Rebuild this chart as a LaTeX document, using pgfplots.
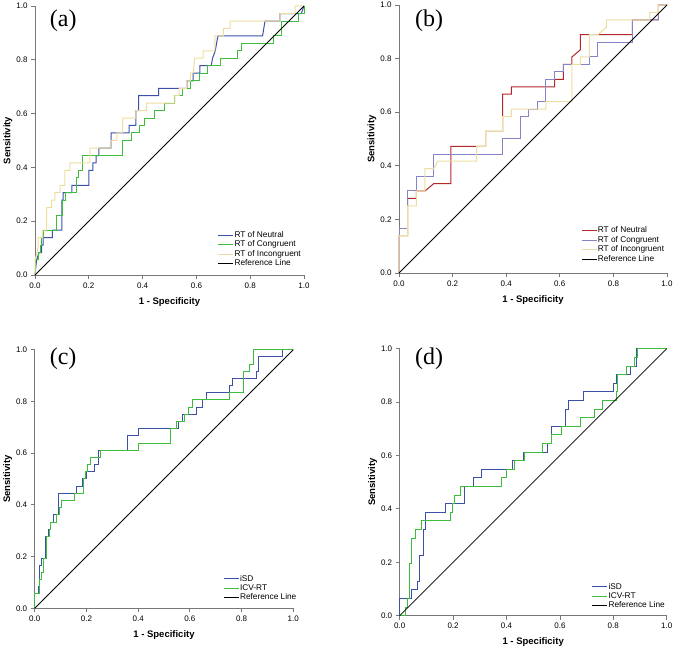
\documentclass[border=0pt]{standalone}
\usepackage{fontspec}
\setmainfont{Liberation Sans}
\newfontfamily\seriffont{Liberation Serif}
\usepackage{pgfplots}
\pgfplotsset{compat=1.18}

\definecolor{cblue}{RGB}{60,80,170}
\definecolor{cgreen}{RGB}{60,190,60}
\definecolor{cyellow}{RGB}{236,222,160}
\definecolor{cred}{RGB}{178,40,40}
\definecolor{clav}{RGB}{132,132,200}
\definecolor{axgray}{RGB}{120,120,120}

\pgfplotsset{
  rocstyle/.style={
    scale only axis,
    xmin=0, xmax=1, ymin=0, ymax=1,
    clip=false,
    axis x line*=bottom, axis y line*=left,
    axis line style={axgray, line width=0.8pt, -},
    xtick={0,0.2,0.4,0.6,0.8,1},
    ytick={0,0.2,0.4,0.6,0.8,1},
    tick align=outside,
    major tick length=4pt,
    tick style={axgray, line width=0.8pt},
    /pgf/number format/assume math mode=true,
    xticklabel style={font=\fontsize{8}{9}\selectfont, /pgf/number format/fixed, /pgf/number format/fixed zerofill, /pgf/number format/precision=1},
    yticklabel style={font=\fontsize{8}{9}\selectfont, /pgf/number format/fixed, /pgf/number format/fixed zerofill, /pgf/number format/precision=1},
    xlabel={1 - Specificity},
    ylabel={Sensitivity},
    every axis x label/.style={at={(axis description cs:0.5,0)}, anchor=center, yshift=-26.7pt, font=\bfseries\fontsize{9.5}{11}\selectfont},
    every axis y label/.style={at={(axis description cs:0,0.5)}, anchor=center, xshift=-27pt, rotate=90, font=\bfseries\fontsize{9.5}{11}\selectfont},
    legend cell align=left,
    legend style={draw=none, fill=none, inner sep=0pt, outer sep=0pt, row sep=0pt,
      font=\fontsize{8.3}{9}\selectfont,
      nodes={inner sep=0.6pt, text height=6.3pt, text depth=1.9pt}},
    legend image code/.code={\draw[#1] (0pt,0pt) -- (15pt,0pt);},
    every axis plot/.append style={line width=1pt},
  },
  refline/.style={black, line width=0.8pt},
}

\begin{document}
\begin{tikzpicture}
\useasboundingbox (0pt,0pt) rectangle (675pt,650pt);

% ---------- (a) ----------
\begin{axis}[rocstyle, at={(35pt,375pt)}, anchor=south west, width=269pt, height=269pt,
  legend style={at={(axis cs:0.68,0.025)}, anchor=south west}]
\addplot[cblue] coordinates {(0,0) (0.006,0.056) (0.015,0.083) (0.025,0.083) (0.025,0.111) (0.03,0.111) (0.03,0.139) (0.065,0.139) (0.065,0.167) (0.1,0.167) (0.1,0.278) (0.105,0.278) (0.105,0.306) (0.137,0.306) (0.137,0.333) (0.2,0.333) (0.2,0.389) (0.215,0.389) (0.215,0.417) (0.227,0.417) (0.227,0.444) (0.237,0.444) (0.237,0.472) (0.283,0.472) (0.283,0.528) (0.35,0.528) (0.35,0.556) (0.375,0.556) (0.375,0.611) (0.385,0.611) (0.385,0.667) (0.46,0.667) (0.46,0.694) (0.565,0.694) (0.565,0.722) (0.588,0.722) (0.588,0.75) (0.613,0.75) (0.613,0.778) (0.655,0.778) (0.66,0.806) (0.67,0.833) (0.675,0.861) (0.68,0.889) (0.846,0.889) (0.855,0.944) (0.91,0.944) (0.91,0.972) (0.99,0.972) (1,1)};
\addlegendentry{RT of Neutral}
\addplot[cgreen] coordinates {(0,0) (0,0.056) (0.012,0.056) (0.012,0.083) (0.02,0.083) (0.02,0.111) (0.025,0.111) (0.025,0.139) (0.03,0.139) (0.03,0.167) (0.081,0.167) (0.081,0.222) (0.104,0.222) (0.104,0.278) (0.114,0.278) (0.114,0.306) (0.153,0.306) (0.153,0.361) (0.163,0.361) (0.163,0.389) (0.178,0.389) (0.178,0.444) (0.326,0.444) (0.326,0.5) (0.357,0.5) (0.357,0.528) (0.388,0.528) (0.388,0.556) (0.406,0.556) (0.406,0.583) (0.443,0.583) (0.443,0.611) (0.48,0.611) (0.48,0.639) (0.52,0.639) (0.52,0.667) (0.548,0.667) (0.548,0.694) (0.579,0.694) (0.579,0.722) (0.613,0.722) (0.613,0.75) (0.64,0.75) (0.64,0.778) (0.69,0.778) (0.69,0.806) (0.752,0.806) (0.752,0.833) (0.768,0.833) (0.768,0.861) (0.886,0.861) (0.886,0.889) (0.917,0.889) (0.917,0.944) (0.979,0.944) (0.979,0.972) (1,0.972) (1,1)};
\addlegendentry{RT of Congruent}
\addplot[cyellow] coordinates {(0,0) (0,0.056) (0.008,0.083) (0.012,0.111) (0.012,0.139) (0.028,0.139) (0.028,0.167) (0.043,0.167) (0.043,0.25) (0.062,0.25) (0.062,0.278) (0.074,0.278) (0.074,0.306) (0.093,0.306) (0.093,0.333) (0.111,0.333) (0.111,0.389) (0.13,0.389) (0.13,0.417) (0.204,0.417) (0.204,0.472) (0.283,0.472) (0.283,0.5) (0.304,0.5) (0.304,0.528) (0.326,0.528) (0.326,0.583) (0.375,0.583) (0.375,0.611) (0.415,0.611) (0.415,0.639) (0.52,0.639) (0.52,0.667) (0.536,0.667) (0.536,0.694) (0.563,0.694) (0.563,0.722) (0.578,0.722) (0.578,0.75) (0.588,0.75) (0.594,0.806) (0.625,0.806) (0.625,0.833) (0.669,0.833) (0.669,0.889) (0.7,0.889) (0.7,0.917) (0.725,0.917) (0.725,0.944) (0.91,0.944) (0.91,0.972) (0.967,0.972) (0.967,1) (1,1)};
\addlegendentry{RT of Incongruent}
\addplot[refline] coordinates {(0,0) (1,1)};
\addlegendentry{Reference Line}
\node[font=\seriffont\fontsize{24}{26}\selectfont] at (rel axis cs:0.105,0.945) {(a)};
\end{axis}

% ---------- (b) ----------
\begin{axis}[rocstyle, at={(399pt,377pt)}, anchor=south west, width=268pt, height=268pt,
  legend style={at={(axis cs:0.68,0.035)}, anchor=south west}]
\addplot[cred] coordinates {(0,0) (0,0.139) (0.032,0.139) (0.032,0.278) (0.065,0.278) (0.065,0.306) (0.097,0.306) (0.129,0.333) (0.194,0.333) (0.194,0.472) (0.29,0.472) (0.323,0.472) (0.323,0.528) (0.387,0.528) (0.387,0.667) (0.419,0.667) (0.419,0.694) (0.581,0.694) (0.581,0.722) (0.613,0.722) (0.613,0.778) (0.645,0.778) (0.645,0.806) (0.677,0.833) (0.677,0.889) (0.871,0.889) (0.871,0.944) (0.968,0.944) (0.968,1) (1,1)};
\addlegendentry{RT of Neutral}
\addplot[clav] coordinates {(0,0) (0,0.167) (0.032,0.167) (0.032,0.306) (0.065,0.306) (0.065,0.361) (0.129,0.361) (0.129,0.444) (0.387,0.444) (0.387,0.5) (0.452,0.5) (0.452,0.583) (0.484,0.583) (0.484,0.611) (0.516,0.611) (0.516,0.639) (0.548,0.639) (0.548,0.722) (0.581,0.722) (0.581,0.75) (0.613,0.75) (0.613,0.778) (0.71,0.778) (0.71,0.806) (0.742,0.806) (0.742,0.861) (0.871,0.861) (0.871,0.944) (0.968,0.944) (0.968,1) (1,1)};
\addlegendentry{RT of Congruent}
\addplot[cyellow] coordinates {(0,0) (0,0.139) (0.032,0.139) (0.032,0.25) (0.065,0.25) (0.065,0.306) (0.097,0.306) (0.097,0.389) (0.129,0.389) (0.145,0.417) (0.29,0.417) (0.29,0.472) (0.323,0.472) (0.323,0.528) (0.387,0.528) (0.387,0.583) (0.419,0.583) (0.419,0.611) (0.548,0.611) (0.548,0.639) (0.645,0.639) (0.645,0.778) (0.677,0.778) (0.677,0.806) (0.71,0.806) (0.71,0.889) (0.742,0.889) (0.774,0.917) (0.774,0.944) (0.935,0.944) (0.935,0.972) (0.968,0.972) (0.968,1) (1,1)};
\addlegendentry{RT of Incongruent}
\addplot[refline] coordinates {(0,0) (1,1)};
\addlegendentry{Reference Line}
\node[font=\seriffont\fontsize{24}{26}\selectfont] at (rel axis cs:0.112,0.94) {(b)};
\end{axis}

% ---------- (c) ----------
\begin{axis}[rocstyle, at={(34.7pt,41.7pt)}, anchor=south west, width=258.6pt, height=258.6pt,
  legend style={at={(axis cs:0.73,0.023)}, anchor=south west}]
\addplot[cblue] coordinates {(0,0) (0,0.056) (0.014,0.056) (0.014,0.083) (0.02,0.083) (0.02,0.167) (0.026,0.167) (0.026,0.194) (0.04,0.194) (0.04,0.278) (0.055,0.278) (0.055,0.306) (0.062,0.306) (0.062,0.333) (0.072,0.333) (0.072,0.361) (0.092,0.361) (0.092,0.444) (0.16,0.444) (0.16,0.472) (0.185,0.472) (0.185,0.5) (0.2,0.5) (0.2,0.528) (0.23,0.528) (0.23,0.556) (0.245,0.556) (0.245,0.611) (0.358,0.611) (0.358,0.667) (0.40,0.667) (0.40,0.694) (0.555,0.694) (0.555,0.722) (0.572,0.722) (0.572,0.75) (0.626,0.75) (0.626,0.778) (0.649,0.778) (0.649,0.806) (0.665,0.806) (0.665,0.833) (0.753,0.833) (0.753,0.861) (0.764,0.861) (0.764,0.889) (0.858,0.889) (0.858,0.917) (0.866,0.917) (0.866,0.972) (0.959,0.972) (0.959,1) (1,1)};
\addlegendentry{iSD}
\addplot[cgreen] coordinates {(0,0) (0,0.056) (0.02,0.056) (0.02,0.111) (0.028,0.111) (0.028,0.139) (0.035,0.139) (0.035,0.194) (0.045,0.194) (0.045,0.278) (0.058,0.278) (0.058,0.306) (0.062,0.306) (0.062,0.333) (0.085,0.333) (0.085,0.361) (0.095,0.361) (0.095,0.389) (0.105,0.389) (0.105,0.417) (0.155,0.417) (0.155,0.444) (0.19,0.444) (0.19,0.5) (0.195,0.5) (0.195,0.528) (0.204,0.528) (0.204,0.556) (0.217,0.556) (0.217,0.583) (0.253,0.583) (0.253,0.611) (0.4,0.611) (0.4,0.639) (0.526,0.639) (0.526,0.694) (0.548,0.694) (0.548,0.722) (0.581,0.722) (0.581,0.75) (0.594,0.75) (0.594,0.778) (0.611,0.778) (0.611,0.806) (0.753,0.806) (0.753,0.833) (0.807,0.833) (0.807,0.917) (0.832,0.917) (0.832,0.944) (0.848,0.944) (0.848,1) (1,1)};
\addlegendentry{ICV-RT}
\addplot[refline] coordinates {(0,0) (1,1)};
\addlegendentry{Reference Line}
\node[font=\seriffont\fontsize{24}{26}\selectfont] at (rel axis cs:0.11,0.965) {(c)};
\end{axis}

% ---------- (d) ----------
\begin{axis}[rocstyle, at={(399.7pt,34.3pt)}, anchor=south west, width=267pt, height=267pt,
  legend style={at={(axis cs:0.72,0.02)}, anchor=south west}]
\addplot[cblue] coordinates {(0,0) (0,0.065) (0.045,0.065) (0.045,0.097) (0.067,0.097) (0.067,0.129) (0.076,0.129) (0.076,0.226) (0.089,0.226) (0.089,0.323) (0.097,0.323) (0.097,0.387) (0.17,0.387) (0.17,0.419) (0.241,0.419) (0.241,0.484) (0.276,0.484) (0.276,0.516) (0.305,0.516) (0.305,0.548) (0.422,0.548) (0.422,0.581) (0.463,0.581) (0.463,0.613) (0.554,0.613) (0.554,0.645) (0.567,0.645) (0.567,0.71) (0.622,0.71) (0.622,0.774) (0.632,0.774) (0.632,0.806) (0.688,0.806) (0.688,0.839) (0.80,0.839) (0.80,0.871) (0.812,0.871) (0.812,0.903) (0.863,0.903) (0.863,0.935) (0.888,0.935) (0.888,1) (1,1)};
\addlegendentry{iSD}
\addplot[cgreen] coordinates {(0,0) (0.02,0) (0.02,0.032) (0.03,0.032) (0.03,0.065) (0.038,0.065) (0.038,0.194) (0.045,0.194) (0.045,0.29) (0.06,0.29) (0.06,0.323) (0.082,0.323) (0.082,0.355) (0.189,0.355) (0.189,0.387) (0.197,0.387) (0.197,0.419) (0.207,0.419) (0.207,0.452) (0.228,0.452) (0.228,0.484) (0.38,0.484) (0.38,0.516) (0.40,0.516) (0.40,0.548) (0.43,0.548) (0.43,0.581) (0.467,0.581) (0.467,0.613) (0.535,0.613) (0.535,0.645) (0.569,0.645) (0.569,0.677) (0.607,0.677) (0.607,0.71) (0.679,0.71) (0.679,0.742) (0.729,0.742) (0.729,0.774) (0.759,0.774) (0.759,0.806) (0.813,0.806) (0.813,0.839) (0.816,0.839) (0.816,0.903) (0.85,0.903) (0.85,0.935) (0.88,0.935) (0.88,0.968) (0.89,0.968) (0.89,1) (1,1)};
\addlegendentry{ICV-RT}
\addplot[refline] coordinates {(0,0) (1,1)};
\addlegendentry{Reference Line}
\node[font=\seriffont\fontsize{24}{26}\selectfont] at (rel axis cs:0.11,0.964) {(d)};
\end{axis}
\end{tikzpicture}
\end{document}
